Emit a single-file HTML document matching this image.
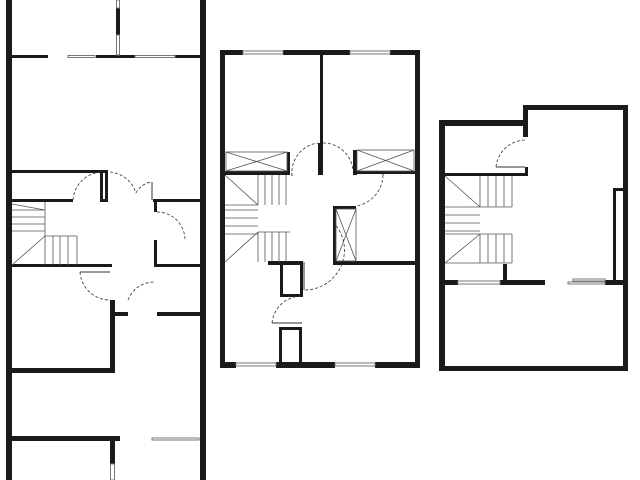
<!DOCTYPE html>
<html><head><meta charset="utf-8"><style>
html,body{margin:0;padding:0;background:#fff;width:640px;height:480px;overflow:hidden}
</style></head><body>
<svg width="640" height="480" viewBox="0 0 640 480" xmlns="http://www.w3.org/2000/svg">
<g fill="#1a1a1a">
<rect x="6" y="0" width="6" height="480"/>
<rect x="200" y="0" width="6" height="480"/>
<rect x="12" y="55" width="36" height="3"/>
<rect x="96" y="55" width="39" height="3"/>
<rect x="175" y="55" width="25" height="3"/>
<rect x="116" y="8" width="4" height="27"/>
<rect x="12" y="170" width="96" height="3"/>
<rect x="100" y="170" width="3" height="32"/>
<rect x="105" y="170" width="3" height="32"/>
<rect x="100" y="199" width="8" height="3"/>
<rect x="12" y="199" width="61" height="3"/>
<rect x="12" y="264" width="100" height="3"/>
<rect x="153" y="199" width="47" height="3"/>
<rect x="154" y="199" width="3" height="13"/>
<rect x="154" y="240" width="3" height="27"/>
<rect x="154" y="264" width="46" height="3"/>
<rect x="110" y="300" width="5" height="73"/>
<rect x="110" y="312" width="18" height="4"/>
<rect x="157" y="312" width="43" height="4"/>
<rect x="12" y="368" width="103" height="5"/>
<rect x="12" y="436" width="108" height="5"/>
<rect x="110" y="441" width="5" height="23"/>
<rect x="220" y="50" width="23" height="5"/>
<rect x="283" y="50" width="67" height="5"/>
<rect x="390" y="50" width="30" height="5"/>
<rect x="220" y="50" width="5" height="318"/>
<rect x="415" y="50" width="5" height="318"/>
<rect x="220" y="362" width="16" height="6"/>
<rect x="276" y="362" width="59" height="6"/>
<rect x="375" y="362" width="45" height="6"/>
<rect x="320" y="55" width="3" height="88"/>
<rect x="318" y="143" width="5" height="32"/>
<rect x="225" y="171" width="65" height="4"/>
<rect x="287" y="152" width="3" height="23"/>
<rect x="353" y="150" width="4" height="25"/>
<rect x="353" y="171" width="62" height="3"/>
<rect x="268" y="261" width="35" height="4"/>
<rect x="333" y="261" width="87" height="4"/>
<rect x="333" y="206" width="23" height="3"/>
<rect x="333" y="206" width="3" height="58"/>
<rect x="280" y="262" width="3" height="35"/>
<rect x="280" y="294" width="23" height="3"/>
<rect x="300" y="262" width="3" height="35"/>
<rect x="279" y="327" width="23" height="3"/>
<rect x="279" y="327" width="3" height="37"/>
<rect x="299" y="327" width="3" height="37"/>
<rect x="439" y="120" width="89" height="6"/>
<rect x="523" y="105" width="5" height="32"/>
<rect x="523" y="105" width="105" height="5"/>
<rect x="623" y="105" width="5" height="266"/>
<rect x="439" y="120" width="6" height="251"/>
<rect x="439" y="366" width="189" height="5"/>
<rect x="445" y="173" width="83" height="3"/>
<rect x="525" y="167" width="3" height="9"/>
<rect x="445" y="280" width="13" height="5"/>
<rect x="500" y="280" width="45" height="5"/>
<rect x="605" y="280" width="23" height="5"/>
<rect x="503" y="264" width="4" height="20"/>
<rect x="613" y="188" width="10" height="3"/>
<rect x="613" y="188" width="3" height="94"/>
</g>
<g fill="#fff" stroke="#777" stroke-width="1">
<rect x="68" y="55.5" width="27" height="2"/>
<rect x="135" y="55.5" width="40" height="2"/>
<rect x="116.5" y="35" width="3" height="20"/>
<rect x="116.5" y="0" width="3" height="8"/>
<rect x="152" y="438" width="47" height="2"/>
<rect x="110.5" y="464" width="4" height="16"/>
<rect x="243" y="51" width="40" height="3"/>
<rect x="350" y="51" width="40" height="3"/>
<rect x="236" y="363" width="40" height="3"/>
<rect x="335" y="363" width="40" height="3"/>
<rect x="458" y="281" width="42" height="3"/>
<rect x="568" y="282" width="37" height="2"/>
<rect x="573" y="279" width="32" height="2"/>
</g>
<g fill="none" stroke="#555" stroke-width="0.8">
<rect x="226" y="152" width="61" height="19"/><path d="M226 152L287 171M287 152L226 171"/>
<rect x="357" y="150" width="57" height="21"/><path d="M357 150L414 171M414 150L357 171"/>
<rect x="336" y="209" width="20" height="52"/><path d="M336 209L356 261M356 209L336 261"/>
<path d="M225 175L258 205M258 175V205M265 175V205M272 175V205M279 175V205M286 175V205M258 205H225"/>
<path d="M225 210H258M225 218H258M225 226H258M225 234H258"/>
<path d="M225 262L258 232M258 232V262M265 232V262M272 232V262M279 232V262M286 232V262M258 232H290"/>
<path d="M12 204L45 210M45 202V265M12 210H45M12 217H45M12 224H45M12 231H45M12 265L45 236M45 236H77M53 236V265M60 236V265M68 236V265M77 236V265"/>
<path d="M445 176L480 207M480 176V207M488 176V207M496 176V207M504 176V207M512 176V207M445 207H512"/>
<path d="M445 215H480M445 223H480M445 231H480"/>
<path d="M445 263L480 234M480 234V263M488 234V263M496 234V263M504 234V263M512 234V263M445 234H512M445 263H512"/>
</g>
<g fill="none" stroke="#333" stroke-width="0.8" stroke-dasharray="3,2">
<path d="M73 200A30 30 0 0 1 102 172"/>
<path d="M110 172A30 30 0 0 1 136 193"/>
<path d="M136 193A20 20 0 0 1 152 182"/>
<path d="M157 212A28 28 0 0 1 185 240"/>
<path d="M80 272A30 30 0 0 0 110 300"/>
<path d="M128 300A28 28 0 0 1 155 282"/>
<path d="M292 176A30 30 0 0 1 318 143"/>
<path d="M323 143A30 30 0 0 1 353 170"/>
<path d="M383 175A32 32 0 0 1 356 206"/>
<path d="M333 222A40 40 0 0 1 304 290"/>
<path d="M272 323A30 30 0 0 1 302 296"/>
<path d="M496 167A30 30 0 0 1 525 140"/>
</g>
<g fill="none" stroke="#333" stroke-width="1">
<path d="M152 182V200M292 174V176M383 173V175M304 262V290M272 323H302M496 167H525M80 272H110"/>
</g>
</svg>
</body></html>
